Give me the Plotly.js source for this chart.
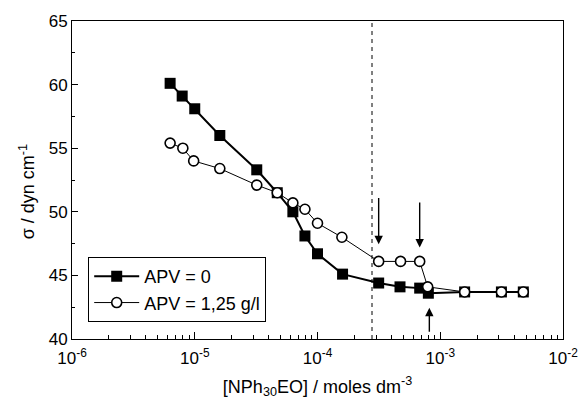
<!DOCTYPE html>
<html>
<head>
<meta charset="utf-8">
<script src="https://cdn.plot.ly/plotly-3.0.1.min.js"></script>
<style>html,body{margin:0;padding:0;background:#fff;}#chart{width:587px;height:402px;}</style>
</head>
<body>
<div id="chart"></div>
<script>
// Series: APV = 0 (filled squares)
var sqX = [6.3e-6, 7.9e-6, 1.0e-5, 1.6e-5, 3.2e-5, 4.7e-5, 6.3e-5, 7.9e-5, 1.0e-4, 1.6e-4, 3.15e-4, 4.7e-4, 6.8e-4, 8.0e-4, 1.58e-3, 3.15e-3, 4.75e-3];
var sqY = [60.1, 59.1, 58.1, 56.0, 53.3, 51.5, 50.0, 48.1, 46.7, 45.1, 44.4, 44.1, 44.0, 43.6, 43.7, 43.7, 43.7];
// Series: APV = 1,25 g/l (open circles)
var ciX = [6.3e-6, 8.0e-6, 9.8e-6, 1.6e-5, 3.2e-5, 4.7e-5, 6.3e-5, 7.9e-5, 1.0e-4, 1.58e-4, 3.15e-4, 4.75e-4, 6.8e-4, 7.9e-4, 1.58e-3, 3.15e-3, 4.75e-3];
var ciY = [55.4, 55.0, 54.0, 53.4, 52.1, 51.5, 50.7, 50.2, 49.1, 48.0, 46.1, 46.1, 46.1, 44.1, 43.7, 43.7, 43.7];
// Vertical dashed reference line
var refLineX = [2.78e-4, 2.78e-4];
var refLineY = [40, 65];
// Arrows: x, tail y, head y
var arrowX = [3.15e-4, 6.8e-4, 8.15e-4];
var arrowTailY = [51.2, 50.85, 40.45];
var arrowHeadY = [47.45, 47.2, 42.45];
// Axis ticks
var xDecades = [1e-6, 1e-5, 1e-4, 1e-3, 1e-2];
var xTickText = ['10<sup>-6</sup>', '10<sup>-5</sup>', '10<sup>-4</sup>', '10<sup>-3</sup>', '10<sup>-2</sup>'];
var xMinorMantissas = [2, 3, 4, 5, 6, 7, 8, 9];
var yTickVals = [40, 45, 50, 55, 60, 65];
var yMinorVals = [42.5, 47.5, 52.5, 57.5, 62.5];

// tick positions in log10 units for the tick-only overlay axis
var xMajorExp = xDecades.map(function(d) { return Math.log10(d); });
var xMinorExp = [];
xDecades.slice(0, -1).forEach(function(d) {
  xMinorMantissas.forEach(function(m) { xMinorExp.push(Math.log10(d * m)); });
});
var xRangeExp = [xMajorExp[0], xMajorExp[xMajorExp.length - 1]];

var FONT = 'Liberation Sans, Arial, Helvetica, sans-serif';

var traces = [
  {x: refLineX, y: refLineY, mode: 'lines', showlegend: false, hoverinfo: 'skip',
   line: {color: 'black', width: 1, dash: '4px,4px'}},
  {x: sqX, y: sqY, mode: 'lines+markers', name: 'APV = 0',
   line: {color: 'black', width: 2},
   marker: {symbol: 'square', size: 11, color: 'black', line: {width: 0}}},
  {x: ciX, y: ciY, mode: 'lines+markers', name: 'APV = 1,25 g/l',
   line: {color: 'black', width: 1},
   marker: {symbol: 'circle', size: 10, color: 'white', line: {color: 'black', width: 1.6}}},
  // invisible point that activates the tick-only overlay axis
  {x: [xRangeExp[0]], y: [yTickVals[0]], xaxis: 'x2', yaxis: 'y', mode: 'markers',
   marker: {opacity: 0}, showlegend: false, hoverinfo: 'skip'}
];

var annotations = arrowX.map(function(v, i) {
  return {x: Math.log10(v), y: arrowHeadY[i], ax: Math.log10(v), ay: arrowTailY[i],
    xref: 'x', yref: 'y', axref: 'x', ayref: 'y', text: '', showarrow: true,
    arrowhead: 2, arrowsize: 1.2, arrowwidth: 1.4, arrowcolor: 'black', standoff: 0, startstandoff: 0};
});
annotations.push({
  xref: 'paper', yref: 'paper', x: -45 / 491, y: 147 / 318.6, xanchor: 'center', yanchor: 'middle',
  textangle: -90, showarrow: false, text: 'σ / dyn cm<sup>-1</sup>',
  font: {family: FONT, size: 18, color: 'black'}
});

var layout = {
  width: 587, height: 402,
  margin: {l: 72, r: 24, t: 21, b: 63},
  paper_bgcolor: 'white', plot_bgcolor: 'white',
  font: {family: FONT, size: 17, color: 'black'},
  showlegend: true,
  legend: {x: 0.033, y: 0.258, xanchor: 'left', yanchor: 'top',
    bordercolor: 'black', borderwidth: 1, bgcolor: 'white', itemwidth: 45,
    font: {family: FONT, size: 18, color: 'black'}, tracegroupgap: 0},
  xaxis: {type: 'log', range: xRangeExp, tickmode: 'array', tickvals: xDecades, ticktext: xTickText,
    ticks: 'inside', ticklen: 7, tickwidth: 1, tickcolor: 'black', ticklabelstandoff: 4,
    showline: true, linecolor: 'black', linewidth: 1, mirror: true,
    showgrid: false, zeroline: false,
    tickfont: {family: FONT, size: 17},
    title: {text: '[NPh<sub>30</sub>EO] / moles dm<sup>-3</sup>', font: {family: FONT, size: 18}, standoff: 12}},
  xaxis2: {type: 'linear', range: xRangeExp, overlaying: 'x', side: 'bottom', anchor: 'y',
    tickmode: 'array', tickvals: xMajorExp, ticks: 'inside', ticklen: 7, tickwidth: 1, tickcolor: 'black',
    minor: {tickmode: 'array', tickvals: xMinorExp, ticks: 'inside', ticklen: 4, tickwidth: 1, tickcolor: 'black', showgrid: false},
    showticklabels: false, showgrid: false, zeroline: false, showline: false},
  yaxis: {range: [40, 65], tickmode: 'array', tickvals: yTickVals,
    ticks: 'inside', ticklen: 6, tickwidth: 1, tickcolor: 'black',
    showline: true, linecolor: 'black', linewidth: 1, mirror: true,
    showgrid: false, zeroline: false,
    minor: {tickmode: 'array', tickvals: yMinorVals, ticks: 'inside', ticklen: 3, tickcolor: 'black', showgrid: false},
    tickfont: {family: FONT, size: 17}},
  annotations: annotations
};

Plotly.newPlot('chart', traces, layout, {staticPlot: true, displayModeBar: false});
</script>
</body>
</html>
